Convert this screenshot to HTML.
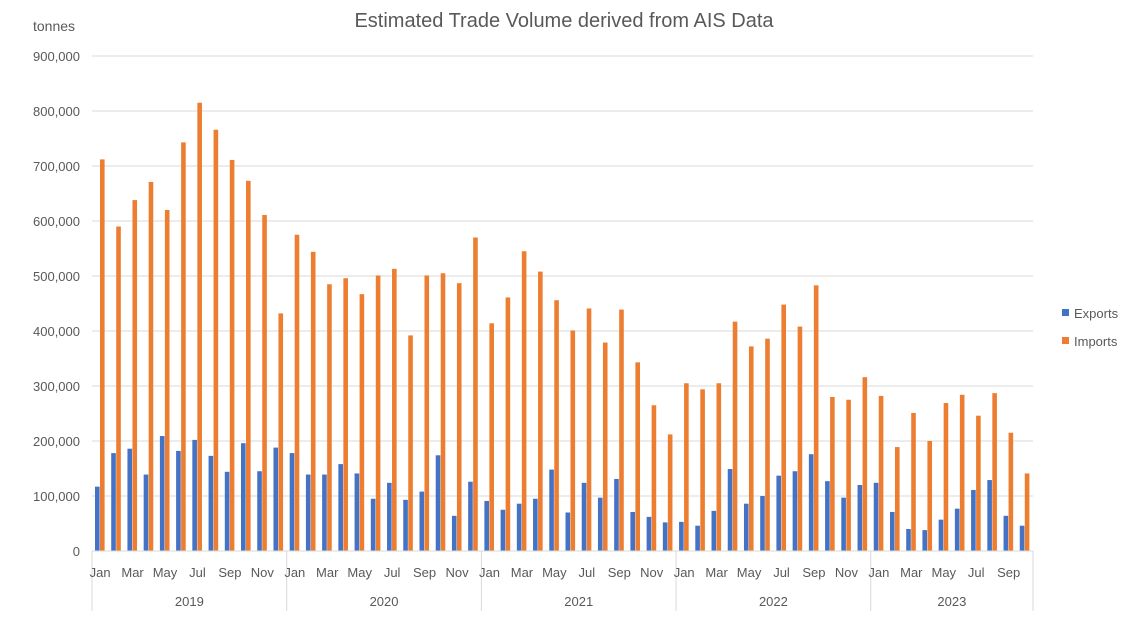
<!DOCTYPE html>
<html><head><meta charset="utf-8"><style>
body{margin:0;background:#fff;font-family:"Liberation Sans",sans-serif}
svg text{font-family:"Liberation Sans",sans-serif;fill:#595959}
</style></head><body>
<svg id="c" width="1129" height="619" xmlns="http://www.w3.org/2000/svg">
<text x="564" y="27" text-anchor="middle" font-size="20">Estimated Trade Volume derived from AIS Data</text>
<text x="33" y="31" font-size="14">tonnes</text>
<g id="grid"></g><g id="bars"></g><g id="xaxis"></g>
<g>
<rect x="1062" y="309" width="7" height="7" fill="#4472c4"/>
<text x="1074" y="318" font-size="13">Exports</text>
<rect x="1062" y="337" width="7" height="7" fill="#ed7d31"/>
<text x="1074" y="346" font-size="13">Imports</text>
</g>
</svg>
<script>
const years=["2019","2020","2021","2022","2023"];
const monthsPerYear=[12,12,12,12,10];
const monthNames=["Jan","Feb","Mar","Apr","May","Jun","Jul","Aug","Sep","Oct","Nov","Dec"];
const imports=[712,590,638,671,620,743,815,766,711,673,611,432,
575,544,485,496,467,501,513,392,501,505,487,570,
414,461,545,508,456,401,441,379,439,343,265,212,
305,294,305,417,372,386,448,408,483,280,275,316,
282,189,251,200,269,284,246,287,215,141];
const exportsV=[117,178,186,139,209,182,202,173,144,196,145,188,
178,139,139,158,141,95,124,93,108,174,64,126,
91,75,86,95,148,70,124,97,131,71,62,52,
53,46,73,149,86,100,137,145,176,127,97,120,
124,71,40,38,57,77,111,129,64,46];
const yTicks=[0,100000,200000,300000,400000,500000,600000,700000,800000,900000];
const NS="http://www.w3.org/2000/svg";
const x0=92,x1=1033,y0=551,yTop=56,yMax=900;
const n=imports.length,cw=(x1-x0)/n;
const Y=v=>y0-(v/yMax)*(y0-yTop);
const X=i=>x0+i*cw;
function mk(t,a,p){const e=document.createElementNS(NS,t);for(const k in a)e.setAttribute(k,a[k]);p.appendChild(e);return e;}
const grid=document.getElementById('grid'),bars=document.getElementById('bars'),xa=document.getElementById('xaxis');
yTicks.forEach(t=>{const y=Y(t/1000);
 if(t>0){const l=mk('line',{x1:x0,x2:x1,y1:y,y2:y,stroke:'#d9d9d9','stroke-width':1},grid);
 
 }
 const tx=mk('text',{x:80,y:y+5,'text-anchor':'end','font-size':13},grid);tx.textContent=t.toLocaleString('en-US');
 
 
});
for(let i=0;i<n;i++){
 const e=mk('rect',{x:X(i)+3,y:Y(exportsV[i]),width:4.6,height:y0-Y(exportsV[i]),fill:'#4472c4'},bars);
 
 
 const m=mk('rect',{x:X(i)+8,y:Y(imports[i]),width:4.6,height:y0-Y(imports[i]),fill:'#ed7d31'},bars);
 
 
}
const ax=mk('line',{x1:x0,x2:x1,y1:y0,y2:y0,stroke:'#d9d9d9'},xa);


let idx=0;
const s0=mk('line',{x1:x0,x2:x0,y1:y0,y2:611,stroke:'#d9d9d9'},xa);


years.forEach((yr,k)=>{
 const m=monthsPerYear[k];
 for(let j=0;j<m;j+=2){const t=mk('text',{x:X(idx+j)+cw/2,y:577,'text-anchor':'middle','font-size':13},xa);t.textContent=monthNames[j];
  
  }
 const yt=mk('text',{x:X(idx)+m*cw/2,y:606,'text-anchor':'middle','font-size':13},xa);yt.textContent=yr;
 
 
 idx+=m;
 const s=mk('line',{x1:X(idx),x2:X(idx),y1:y0,y2:611,stroke:'#d9d9d9'},xa);
 
 
});
</script>
</body></html>
